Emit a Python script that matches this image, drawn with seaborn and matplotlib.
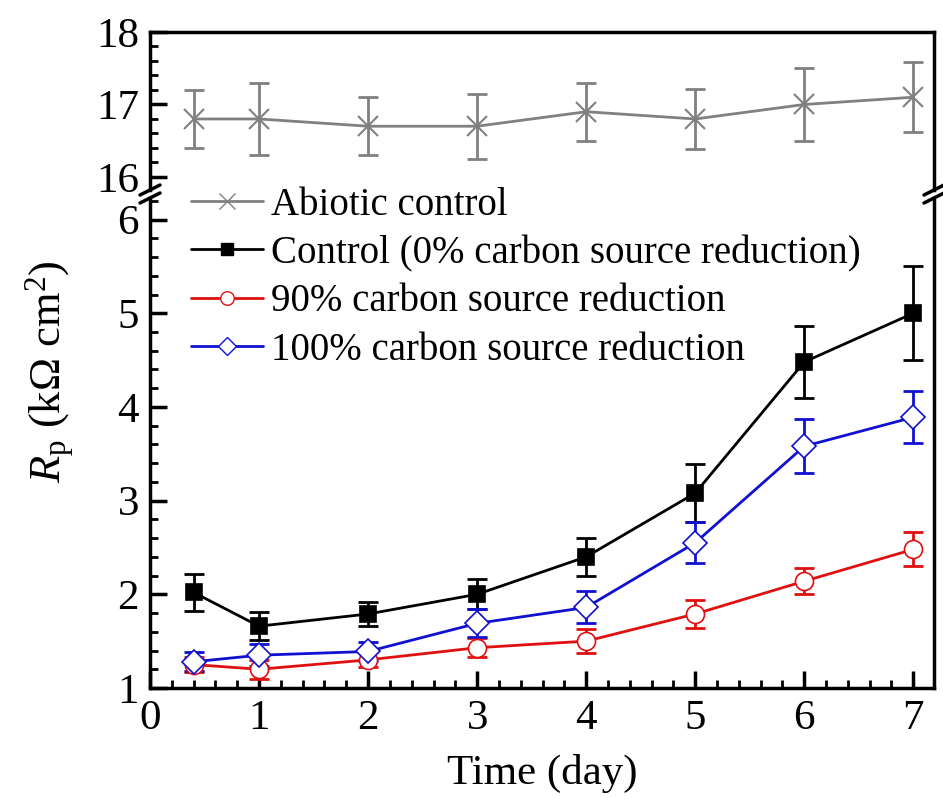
import numpy as np
import pandas as pd
import matplotlib
matplotlib.use("Agg")
import matplotlib.pyplot as plt
import seaborn as sns
from matplotlib.ticker import MultipleLocator
from matplotlib.lines import Line2D

sns.set_style("ticks")
plt.rcParams['font.family'] = ['Liberation Serif', 'DejaVu Serif']
plt.rcParams['mathtext.fontset'] = 'custom'
plt.rcParams['mathtext.rm'] = 'Liberation Serif'
plt.rcParams['mathtext.it'] = 'Liberation Serif:italic'
plt.rcParams['text.color'] = 'black'
plt.rcParams['axes.labelcolor'] = 'black'
plt.rcParams['xtick.color'] = 'black'
plt.rcParams['ytick.color'] = 'black'

days = [0.4, 1, 2, 3, 4, 5, 6, 7]
abiotic = [16.8, 16.8, 16.7, 16.7, 16.9, 16.8, 17.0, 17.1]
abiotic_err = [0.4, 0.5, 0.4, 0.45, 0.4, 0.42, 0.5, 0.48]
control = [2.02, 1.66, 1.79, 2.0, 2.4, 3.08, 4.48, 5.0]
control_err = [0.2, 0.15, 0.13, 0.16, 0.2, 0.31, 0.38, 0.5]
red90 = [1.25, 1.2, 1.3, 1.43, 1.5, 1.79, 2.14, 2.48]
red90_err = [0.08, 0.1, 0.08, 0.1, 0.13, 0.15, 0.14, 0.18]
red100 = [1.28, 1.35, 1.39, 1.69, 1.86, 2.55, 3.58, 3.89]
red100_err = [0.1, 0.12, 0.1, 0.15, 0.17, 0.22, 0.29, 0.28]

labels = ["Abiotic control", "Control (0% carbon source reduction)",
          "90% carbon source reduction", "100% carbon source reduction"]

W, H = 943, 798
fig = plt.figure(figsize=(W/100, H/100), dpi=100)
L, R = 150/W, 934/W
ax_top = fig.add_axes([L, 1-190/H, R-L, (190-32)/H])
ax_bot = fig.add_axes([L, 1-688/H, R-L, (688-198)/H])

series = [
    (ax_top, abiotic, abiotic_err, '#808080', 'x', '#808080', 15),
    (ax_bot, control, control_err, 'black', 's', 'black', 11),
    (ax_bot, red90, red90_err, '#e01010', 'o', 'white', 13),
    (ax_bot, red100, red100_err, '#1010d0', 'D', 'white', 12),
]
handles = []
for (ax, y, e, c, m, fc, ms), lab in zip(series, labels):
    df = pd.DataFrame({'day': days, 'val': y})
    ax.errorbar(days, y, yerr=e, fmt='none', ecolor=c, elinewidth=2,
                capsize=7, capthick=2, zorder=2)
    sns.lineplot(data=df, x='day', y='val', ax=ax, color=c, lw=2,
                 marker=m, markersize=ms, markerfacecolor=fc,
                 markeredgecolor=c, markeredgewidth=1.2 if m != 'x' else 1.5,
                 zorder=3, legend=False)
    handles.append(Line2D([], [], color=c, lw=2, marker=m,
                          markersize=ms*0.75, markerfacecolor=fc,
                          markeredgecolor=c, label=lab))

for ax in (ax_top, ax_bot):
    ax.set_xlim(0, 7.19)
    ax.set_xlabel('')
    ax.set_ylabel('')
    for s in ax.spines.values():
        s.set_linewidth(2.5)
        s.set_color('black')
    ax.tick_params(axis='both', which='major', direction='in', length=12,
                   width=2.5, labelsize=31, pad=8, top=False, right=False,
                   colors='black')
    ax.tick_params(axis='both', which='minor', direction='in', length=6,
                   width=2, top=False, right=False, colors='black')

ax_top.set_ylim(15.82, 18)
ax_top.set_yticks([16, 17, 18])
ax_top.yaxis.set_minor_locator(MultipleLocator(0.2))
ax_top.spines['bottom'].set_visible(False)
ax_top.tick_params(axis='x', which='both', bottom=False, labelbottom=False)

ax_bot.set_ylim(1, 6.23)
ax_bot.set_yticks([1, 2, 3, 4, 5, 6])
ax_bot.yaxis.set_minor_locator(MultipleLocator(0.2))
ax_bot.set_xticks(range(8))
ax_bot.xaxis.set_minor_locator(MultipleLocator(0.2))
ax_bot.spines['top'].set_visible(False)
ax_bot.set_xlabel('Time (day)', fontsize=31, labelpad=12, color='black')

# break marks
for xf in (L, R):
    for yp in (190, 198):
        xc, yc = xf, 1 - yp/H
        fig.add_artist(Line2D([xc-10/W, xc+10/W], [yc-5/H, yc+5/H],
                              color='black', lw=2.5))

fig.text(50/W, 1-372/H, r'$R_\mathrm{p}$ (k$\Omega$ cm$^2$)', rotation=90,
         fontsize=32, ha='center', va='center', color='black')

ax_bot.legend(handles=handles, loc='upper left', frameon=False, fontsize=28,
              handlelength=1.85, handletextpad=0.2, labelspacing=0.29,
              borderaxespad=0.0, bbox_to_anchor=(0.033, 1.055),
              labelcolor='black')

fig.savefig('out.png', dpi=100)
